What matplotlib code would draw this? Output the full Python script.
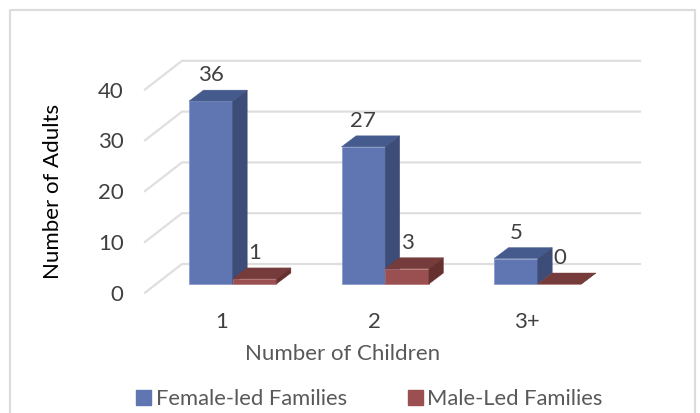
import matplotlib
matplotlib.use("Agg")
import matplotlib.pyplot as plt
from matplotlib.patches import Patch, Polygon
from matplotlib.lines import Line2D

plt.rcParams["font.family"] = ["Lato", "DejaVu Sans"]

categories = ["1", "2", "3+"]
female_led = [36, 27, 5]
male_led = [1, 3, 0]
y_ticks = [0, 10, 20, 30, 40]

W, H = 700, 413
PX_X = 152.5  # pixels per category
PX_Y = 5.08   # pixels per unit

bar_w = 43.7 / PX_X
depth_x = 14.5 / PX_X
depth_y = 11 / PX_Y
wall_x = 37 / PX_X
wall_front = -8.7 / PX_Y
wall_back = 20 / PX_Y
label_gap = 26 / PX_Y

fig = plt.figure(figsize=(7, 4.13), dpi=100, facecolor="white")
ax = fig.add_axes([145 / W, (H - 293) / H, 495 / W, 232 / H])
ax.set_xlim((145 - 232.7) / PX_X, (640 - 232.7) / PX_X)
ax.set_ylim(-9 / PX_Y, 223 / PX_Y)
ax.patch.set_visible(False)
for s in ax.spines.values():
    s.set_visible(False)

# outer chart frame, runs off the bottom of the picture
fig.add_artist(Line2D([10 / W, 10 / W, 695 / W, 695 / W],
                      [0, (H - 10) / H, (H - 10) / H, 0],
                      color="#dcdcdc", lw=1.6, transform=fig.transFigure))

# walls and gridlines
x0, x1 = ax.get_xlim()
for v in y_ticks:
    ax.plot([x0, x0 + wall_x, x1], [v + wall_front, v + wall_back, v + wall_back],
            color="#dfdfdf", lw=1.6, zorder=1, clip_on=False, solid_joinstyle="miter")


def bar3d(left, value, front, top, side, edge):
    ax.bar(left, value, bar_w, align="edge", color=front, edgecolor=edge, lw=0.5, zorder=3)
    r = left + bar_w
    ax.add_patch(Polygon([(left, value), (r, value), (r + depth_x, value + depth_y),
                          (left + depth_x, value + depth_y)], fc=top, ec=top, lw=0.3, zorder=3))
    ax.add_patch(Polygon([(r, 0), (r + depth_x, depth_y), (r + depth_x, value + depth_y),
                          (r, value)], fc=side, ec=side, lw=0.3, zorder=3))
    ax.text(left + bar_w / 2, value + label_gap, str(value), ha="center", va="center",
            fontsize=16, color="#404040", zorder=4)


for i in range(len(categories)):
    bar3d(i - bar_w, female_led[i], "#5f76b3", "#465b8d", "#3e4d78", "#8296c9")
    bar3d(i, male_led[i], "#9a5050", "#763b3b", "#66302f", "#b56f6f")

# tick labels sit on the front edge of the left wall
ax.set_yticks([v + wall_front for v in y_ticks], [str(v) for v in y_ticks])
ax.set_xticks([i - 11 / PX_X for i in range(len(categories))], categories)
ax.tick_params(axis="y", length=0, pad=15.5, labelsize=16, labelcolor="#404040")
ax.tick_params(axis="x", length=0, pad=14, labelsize=16, labelcolor="#404040")

fig.text(343 / W, (H - 354) / H, "Number of Children", ha="center", va="center",
         fontsize=16, color="#595959")
fig.text(53 / W, (H - 191) / H, "Number of Adults", ha="center", va="center",
         rotation=90, fontsize=16, color="black")

handles = [Patch(color="#5f76b3", label="Female-led Families"),
           Patch(color="#9a5050", label="Male-Led Families")]
fig.legend(handles=handles, loc="center", bbox_to_anchor=(369.5 / W, (H - 399) / H),
           ncol=2, frameon=False, fontsize=15.8, labelcolor="#595959",
           handlelength=0.66, handleheight=0.66, handletextpad=0.22, columnspacing=2.8,
           borderpad=0, borderaxespad=0)

fig.savefig("out.png", dpi=100)
